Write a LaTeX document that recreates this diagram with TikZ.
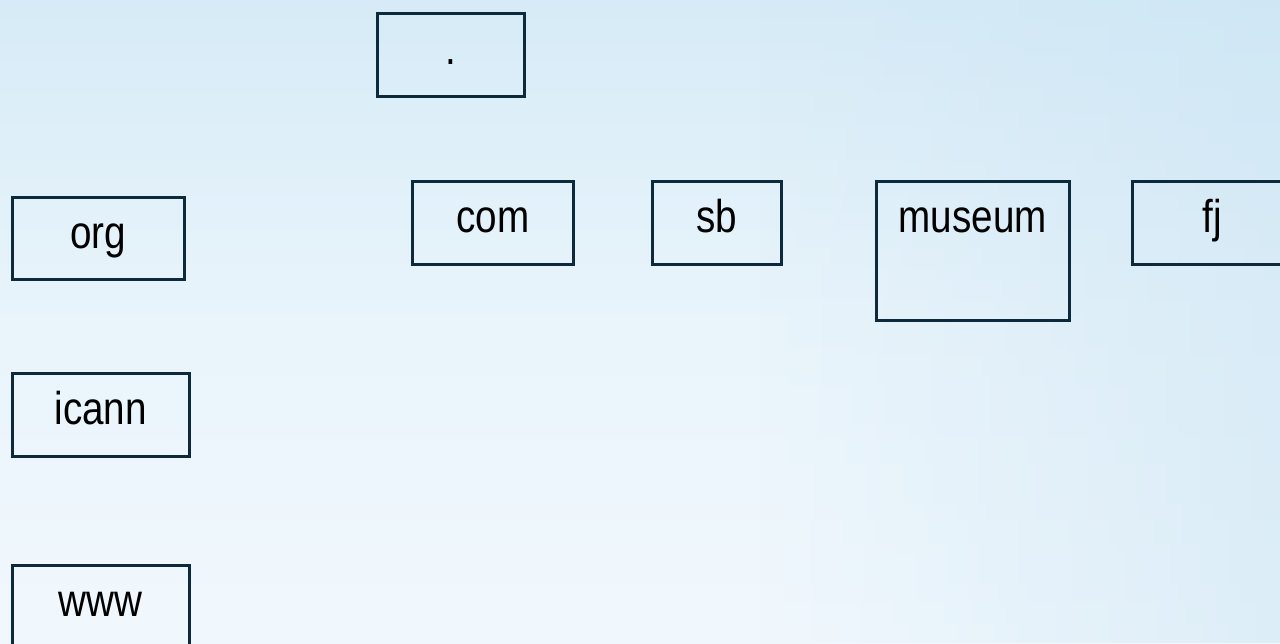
\documentclass[tikz,border=0pt]{standalone}
\usepackage{fontspec}
\setmainfont{Liberation Sans}[FakeStretch=0.84]
\usetikzlibrary{fadings}
\definecolor{bgtop}{HTML}{D6EBF7}
\definecolor{bgbot}{HTML}{F1F8FD}
\definecolor{bgright}{HTML}{C9E3F3}
\definecolor{boxline}{HTML}{0C2A3C}
\begin{document}
\begin{tikzpicture}[x=1pt,y=-1pt,
  lbl/.style={draw=boxline,line width=2.5pt,anchor=north west,inner sep=0pt,
    font=\fontsize{46}{50}\selectfont,text=black,text height=51pt}]
\useasboundingbox (0,0) rectangle (1280,643);
\clip (0,0) rectangle (1280,643);
\fill[top color=bgtop,bottom color=bgbot,middle color=bgbot!70!bgtop] (0,0) rectangle (1280,643);
\fill[bgright,opacity=0.5,path fading=west] (760,0) rectangle (1280,643);
\node[lbl,minimum width=147pt,text depth=32pt] (root) at (376,12) {.};
\node[lbl,minimum width=172pt,text depth=31pt] (org) at (11,196) {org};
\node[lbl,minimum width=161pt,text depth=32pt] (com) at (411,180) {com};
\node[lbl,minimum width=129pt,text depth=32pt] (sb) at (651,180) {sb};
\node[lbl,minimum width=193pt,text depth=88pt] (museum) at (875,180) {museum};
\node[lbl,minimum width=160pt,text depth=32pt] (fj) at (1131,180) {fj};
\node[lbl,minimum width=177pt,text depth=32pt] (icann) at (11,372) {icann};
\node[lbl,minimum width=177pt,text depth=32pt] (www) at (11,564) {www};
\end{tikzpicture}
\end{document}
